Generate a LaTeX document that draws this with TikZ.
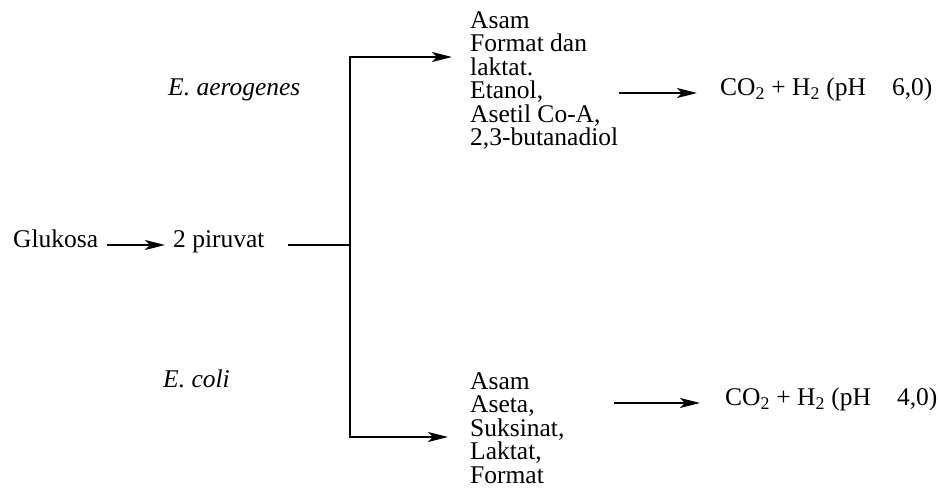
\documentclass[tikz,border=0pt]{standalone}
\usepackage{fontspec}
\setmainfont{Liberation Serif}
\usetikzlibrary{arrows.meta,positioning,calc}

\begin{document}
\begin{tikzpicture}[
    x=1pt, y=-1pt,
    label/.style={inner sep=0pt, font=\fontsize{25.5}{23.5}\selectfont},
    species/.style={label, font=\fontsize{25.5}{23.5}\selectfont\itshape, anchor=base west},
    product/.style={label, align=left, anchor=north west},
    link/.style={line width=2pt, line cap=rect},
    flow/.style={link, -{Stealth[length=20pt,width=10pt,inset=5pt]}}
  ]
  \useasboundingbox (0,0) rectangle (938,498);

  % Start
  \node[label, anchor=mid west] (glukosa) at (13,245) {Glukosa};
  \node[label, anchor=mid west] (piruvat) at (173,245) {2 piruvat};

  % Branch points
  \coordinate (branch) at (350,245);
  \coordinate (aerobranch) at (350,57);
  \coordinate (colibranch) at (350,437);

  % Species
  \node[species] (aero) at (168,95) {E. aerogenes};
  \node[species] (coli) at (163,387) {E. coli};

  % Products
  \node[product] (aerolist) at (470,11) {Asam\\Format dan\\laktat.\\Etanol,\\Asetil Co-A,\\2,3-butanadiol};
  \node[product] (colilist) at (470,372) {Asam\\Aseta,\\Suksinat,\\Laktat,\\Format};
  \node[label, anchor=mid west] (aerogas) at (720,93) {CO\textsubscript{2} + H\textsubscript{2} (pH\hspace{26pt}6,0)};
  \node[label, anchor=mid west] (coligas) at (725,403) {CO\textsubscript{2} + H\textsubscript{2} (pH\hspace{26pt}4,0)};

  % Connections
  \draw[flow, shorten <=10pt, shorten >=8pt] (glukosa.mid east) -- (piruvat.mid west);
  \draw[link, shorten <=24pt] (piruvat.mid east) -- (branch);
  \draw[link] (aerobranch) -- (colibranch);
  \draw[flow, shorten >=18pt] (aerobranch) -- (aerobranch -| aerolist.west);
  \draw[flow, shorten >=22pt] (colibranch) -- (colibranch -| colilist.west);
  \draw[flow, shorten <=2pt, shorten >=23pt] (aerolist.east |- aerogas.mid west) -- (aerogas.mid west);
  \draw[flow, shorten <=50pt, shorten >=25pt] (colilist.east |- coligas.mid west) -- (coligas.mid west);
\end{tikzpicture}
\end{document}
